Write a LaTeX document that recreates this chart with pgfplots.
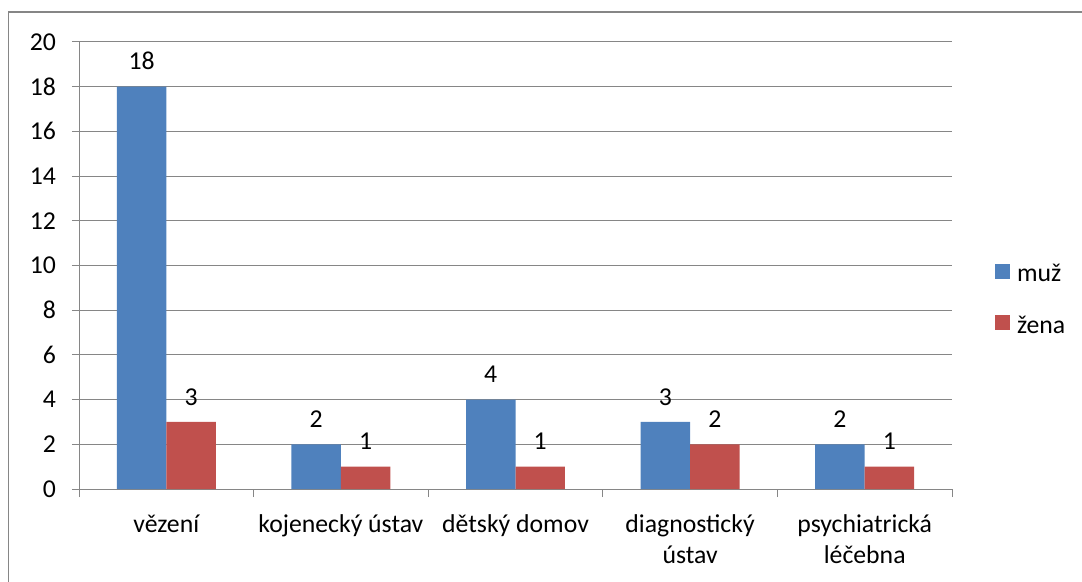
\documentclass[border=0pt]{standalone}
\usepackage{pgfplots}
\pgfplotsset{compat=1.18}
\usepackage{fontspec}
\setmainfont{Carlito}
\definecolor{mblue}{HTML}{4F81BD}
\definecolor{mred}{HTML}{C0504D}
\definecolor{gridc}{HTML}{868686}
\begin{document}
\begin{tikzpicture}
\path[use as bounding box] (0pt,0pt) rectangle (811.5pt,436.5pt);
\draw[gridc, line width=1.1pt] (6.4pt,0pt) -- (6.4pt,427.5pt) -- (811.5pt,427.5pt);
\begin{axis}[
  at={(59.25pt,69.75pt)}, anchor=south west,
  scale only axis,
  width=654.75pt, height=335.25pt,
  xmin=-0.5, xmax=4.5,
  ymin=0, ymax=20,
  ytick={0,2,...,20},
  xtick={0,1,2,3,4},
  xticklabels={v\v{e}zen\'{\i},kojeneck\'y \'ustav,d\v{e}tsk\'y domov,{diagnostick\'y\\\'ustav},{psychiatrick\'a\\l\'e\v{c}ebna}},
  xticklabel style={align=center, anchor=north, yshift=-10.5pt, font=\fontsize{19.3pt}{23.25pt}\selectfont},
  yticklabel style={font=\fontsize{19.3pt}{22pt}\selectfont, xshift=-8.5pt},
  major x tick style={draw=none},
  minor xtick={-0.5,0.5,...,4.5},
  minor tick length=6pt,
  major tick length=5.25pt,
  tick align=outside,
  tick style={gridc, line width=0.75pt},
  axis x line*=bottom,
  axis y line*=left,
  axis line style={gridc, line width=0.75pt, -},
  ymajorgrids,
  grid style={gridc, line width=0.75pt},
  ybar=0pt,
  bar width=37.1pt,
  /pgf/number format/assume math mode=true,
  nodes near coords,
  nodes near coords style={font=\fontsize{19.3pt}{22pt}\selectfont, black, yshift=9pt},
  legend style={draw=none, fill=none, at={(rel axis cs:1.049,0.423)}, anchor=west,
    font=\fontsize{19.3pt}{22pt}\selectfont, row sep=20pt, inner sep=0pt},
  legend cell align=left,
]
\addplot[fill=mblue, draw=none, legend image code/.code={\fill[mblue] (0pt,-3.25pt) rectangle (11.25pt,8pt); \path (14.5pt,0pt);}]
  coordinates {(0,18) (1,2) (2,4) (3,3) (4,2)};
\addplot[fill=mred, draw=none, legend image code/.code={\fill[mred] (0pt,-3.25pt) rectangle (11.25pt,8pt); \path (14.5pt,0pt);}]
  coordinates {(0,3) (1,1) (2,1) (3,2) (4,1)};
\legend{mu\v{z},\v{z}ena}
\end{axis}
\end{tikzpicture}
\end{document}
